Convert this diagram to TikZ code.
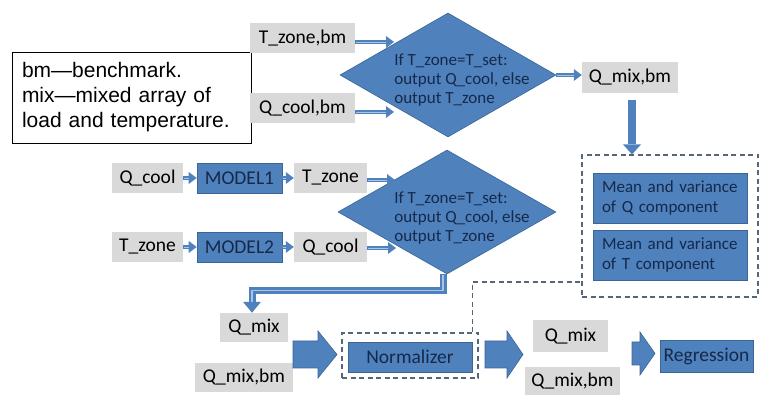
\documentclass[tikz,border=0pt]{standalone}
\usepackage{fontspec}
\setmainfont{Carlito}
\newfontfamily\arialf{Liberation Sans}
\usetikzlibrary{shapes.geometric,arrows.meta,calc}
\definecolor{bbl}{HTML}{4F81BD}
\definecolor{bbd}{HTML}{3A6595}
\definecolor{btx}{HTML}{15294A}
\definecolor{gbx}{HTML}{D9D9D9}
\definecolor{dsc}{HTML}{56657A}
\definecolor{lbl}{HTML}{A9C3E6}
\tikzset{
  graybox/.style={fill=gbx, draw=none, inner sep=0pt, font=\fontsize{19.5}{22}\selectfont, text=black},
  bluebox/.style={fill=bbl, draw=bbd, line width=0.6pt, inner sep=0pt, font=\fontsize{19.5}{22}\selectfont, text=btx},
  meanbox/.style={bluebox, font=\fontsize{17}{20}\selectfont, align=left, text width=136pt},
  dtext/.style={font=\fontsize{17}{19}\selectfont, text=btx, align=left, inner sep=0pt},
  dia/.style={diamond, fill=bbl, draw=bbd, line width=0.6pt, inner sep=0pt, minimum width=216pt, minimum height=124pt},
  conn/.style={draw=bbl, line width=4.5pt, -{Triangle[length=8pt,width=12pt,line width=0pt]},
    postaction={draw=lbl, line width=0.9pt, -, shorten >=8pt, shorten <=1pt}},
  bigconn/.style={draw=bbl, line width=7pt, -{Triangle[length=11pt,width=18pt,line width=0pt]},
    postaction={draw=lbl, line width=1.5pt, -, shorten >=11pt, shorten <=1pt}},
  downar/.style={draw=bbl, line width=8pt, -{Triangle[length=10pt,width=18pt,line width=0pt]}},
  fat/.style={fill=bbl, draw=bbd, line width=0.6pt},
  dsh/.style={draw=dsc, line width=1.1pt, dash pattern=on 5pt off 3.5pt},
}
\begin{document}
\begin{tikzpicture}[x=1pt,y=-1pt]
\useasboundingbox (0,0) rectangle (769,395);

% legend
\node[draw=black, line width=0.8pt, minimum width=239pt, minimum height=91pt, inner sep=0pt,
      text width=219pt, align=left, font=\arialf\fontsize{21}{25}\selectfont] (legend) at (131.5,97.5)
  {bm—benchmark.\\mix—mixed array of\\load and temperature.};

% top diamond section
\node[graybox, minimum width=105pt, minimum height=30pt] (tzbm) at (302.5,38) {T\_zone,bm};
\node[graybox, minimum width=105pt, minimum height=30pt] (qcbm) at (302.5,108) {Q\_cool,bm};
\node[dia] (d1) at (448,75) {};
\node[dtext] (d1t) at (462,80) {If T\_zone=T\_set:\\output Q\_cool, else\\output T\_zone};
\node[graybox, minimum width=96pt, minimum height=31pt] (qmbm) at (630,77.5) {Q\_mix,bm};

\coordinate (a1) at (394,42);
\coordinate (a2) at (394,112);
\draw[conn] ([yshift=-4pt]tzbm.east) -- (a1);
\draw[conn] ([yshift=-4pt]qcbm.east) -- (a2);
\draw[conn] (d1.east) -- (qmbm.west |- d1.east);

% dashed box with mean/variance
\node[dsh, minimum width=176pt, minimum height=142pt] (dbox) at (670,226) {};
\node[meanbox, minimum width=154pt, minimum height=50pt] (mq) at (670,198) {Mean and variance\\of Q component};
\node[meanbox, minimum width=154pt, minimum height=50pt] (mt) at (670,255) {Mean and variance\\of T component};
\draw[downar] ([xshift=2pt,yshift=-7pt]qmbm.south) -- ([xshift=2pt]qmbm.south |- dbox.north);

% model rows
\node[graybox, minimum width=71pt, minimum height=30pt] (qc1) at (147.5,178) {Q\_cool};
\node[bluebox, minimum width=85pt, minimum height=30pt] (m1) at (239.5,178) {MODEL1};
\node[graybox, minimum width=73pt, minimum height=30pt] (tz1) at (330.5,178) {T\_zone};
\node[graybox, minimum width=71pt, minimum height=30pt] (tz2) at (147.5,247) {T\_zone};
\node[bluebox, minimum width=85pt, minimum height=30pt] (m2) at (239.5,247) {MODEL2};
\node[graybox, minimum width=73pt, minimum height=30pt] (qc2) at (330.5,247) {Q\_cool};
\node[dia, minimum width=218pt] (d2) at (447,212) {};
\node[dtext] (d2t) at (462,218) {If T\_zone=T\_set:\\output Q\_cool, else\\output T\_zone};

\draw[conn] (qc1.east) -- (m1.west);
\draw[conn] (m1.east) -- (tz1.west);
\draw[conn] (tz2.east) -- (m2.west);
\draw[conn] (m2.east) -- (qc2.west);
\coordinate (a3) at (395,180);
\coordinate (a4) at (396,248);
\draw[conn] ([yshift=-2pt]tz1.east) -- (a3);
\draw[conn] ([yshift=-1pt]qc2.east) -- (a4);

% bottom row
\node[graybox, minimum width=68pt, minimum height=29pt] (qmix1) at (254,327.5) {Q\_mix};
\node[graybox, minimum width=98pt, minimum height=29pt] (qmixbm1) at (244,377.5) {Q\_mix,bm};
\draw[bigconn] ([xshift=-4pt]d2.south) -- ++(0,16) -| ([xshift=-2pt]qmix1.north);

\node[dsh, minimum width=136pt, minimum height=45pt] (ndash) at (410,355.5) {};
\node[bluebox, minimum width=124pt, minimum height=30pt] (norm) at (410,357) {Normalizer};

\node[graybox, minimum width=75pt, minimum height=32pt] (qmix2) at (570.5,336) {Q\_mix};
\node[graybox, minimum width=95pt, minimum height=28pt] (qmixbm2) at (572.5,381) {Q\_mix,bm};
\node[bluebox, minimum width=93pt, minimum height=32pt] (regr) at (706.5,356) {Regression};

% fat block arrows
\filldraw[fat] (293,341) -- (318,341) -- (318,331) -- (337,354.5) -- (318,378) -- (318,368) -- (293,368) -- cycle;
\filldraw[fat] (485,341) -- (507,341) -- (507,331) -- (523,354.5) -- (507,378) -- (507,368) -- (485,368) -- cycle;
\filldraw[fat] (632,342) -- (640,342) -- (640,332) -- (655,353.5) -- (640,375) -- (640,365) -- (632,365) -- cycle;

% dashed connector
\coordinate (dj) at (582,282);
\draw[dsh] ([xshift=-6pt]ndash.north east) |- (dj);
\end{tikzpicture}
\end{document}
